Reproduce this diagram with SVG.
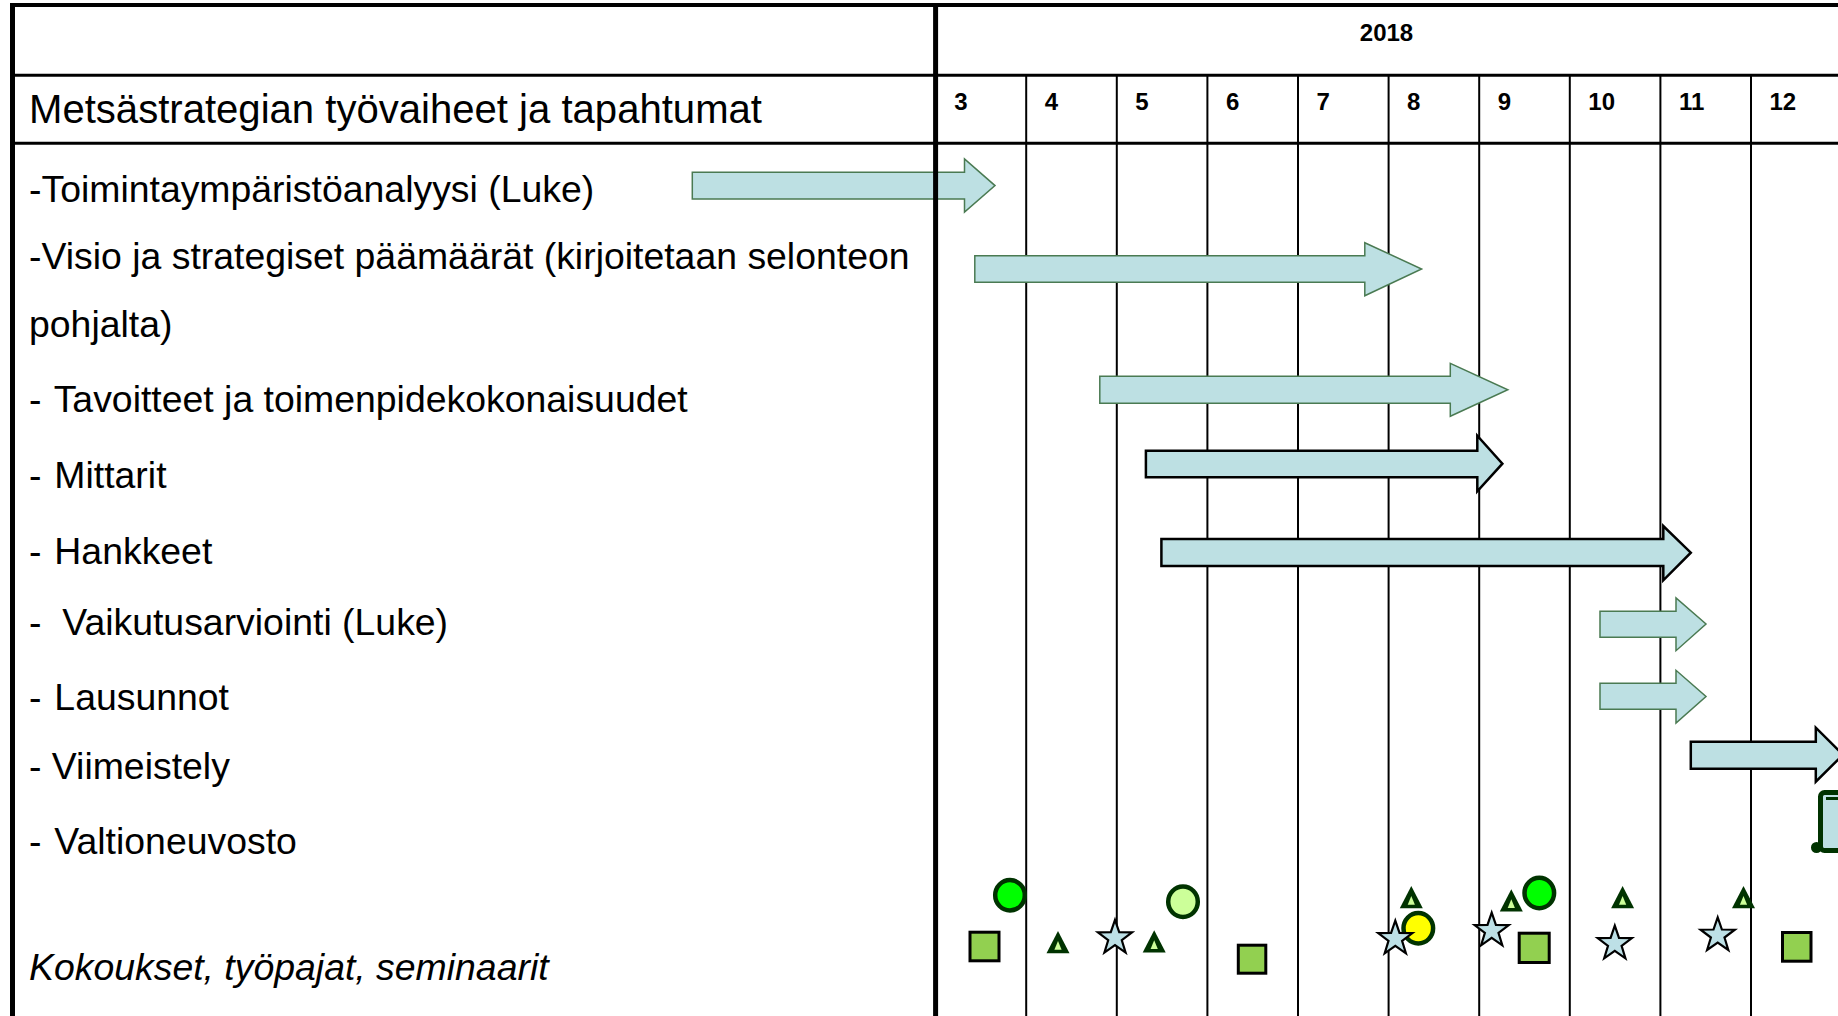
<svg xmlns="http://www.w3.org/2000/svg" xmlns:xlink="http://www.w3.org/1999/xlink" width="1838" height="1016" viewBox="0 0 1838 1016">
<style>
  .grid{stroke:#000;fill:none}
  .thin{stroke-width:2}
  .lbl{font-family:"Liberation Sans",Arial,sans-serif;font-size:37.4px;fill:#000}
  .hdr{font-family:"Liberation Sans",Arial,sans-serif;font-size:40.1px;fill:#000}
  .mon{font-family:"Liberation Sans",Arial,sans-serif;font-size:24px;font-weight:bold;fill:#000}
  .arrA{fill:#bde0e3;stroke:#4a7a52;stroke-width:1.5}
  .arrB{fill:#bde0e3;stroke:#000;stroke-width:2.5}
  .sq{fill:#92d050;stroke:#000;stroke-width:3}
  .circ{stroke:#003300;stroke-width:4.5}
  .star{fill:#bde0e6;stroke:#000;stroke-width:2.2;stroke-linejoin:miter}
</style>
<defs>
  <g id="tri">
    <polygon points="0,-11 11.5,11.3 -11.5,11.3" fill="#003300"/>
    <polygon points="0,-1 3.6,7.8 -3.6,7.8" fill="#ccff99"/>
  </g>
  <polygon id="star" class="star" points="0,-18 4.2,-5.8 17.1,-5.6 6.8,2.2 10.6,14.6 0,7.2 -10.6,14.6 -6.8,2.2 -17.1,-5.6 -4.2,-5.8"/>
</defs>
<rect x="0" y="0" width="1838" height="1016" fill="#fff"/>

<g id="grid">
  <line class="grid thin" x1="1026.2" y1="75" x2="1026.2" y2="1016"/>
  <line class="grid thin" x1="1116.8" y1="75" x2="1116.8" y2="1016"/>
  <line class="grid thin" x1="1207.4" y1="75" x2="1207.4" y2="1016"/>
  <line class="grid thin" x1="1298" y1="75" x2="1298" y2="1016"/>
  <line class="grid thin" x1="1388.6" y1="75" x2="1388.6" y2="1016"/>
  <line class="grid thin" x1="1479.2" y1="75" x2="1479.2" y2="1016"/>
  <line class="grid thin" x1="1569.8" y1="75" x2="1569.8" y2="1016"/>
  <line class="grid thin" x1="1660.4" y1="75" x2="1660.4" y2="1016"/>
  <line class="grid thin" x1="1751" y1="75" x2="1751" y2="1016"/>
  <line class="grid" stroke-width="4" x1="10" y1="5" x2="1838" y2="5"/>
  <line class="grid" stroke-width="3" x1="10" y1="75.3" x2="1838" y2="75.3"/>
  <line class="grid" stroke-width="3" x1="10" y1="143.3" x2="1838" y2="143.3"/>
  <line class="grid" stroke-width="5" x1="12.5" y1="3" x2="12.5" y2="1016"/>
</g>

<g id="header">
  <text class="mon" x="1386.5" y="41" text-anchor="middle">2018</text>
  <text class="hdr" x="29" y="123">Metsästrategian työvaiheet ja tapahtumat</text>
  <text class="mon" x="954.3" y="110">3</text>
  <text class="mon" x="1044.7" y="110">4</text>
  <text class="mon" x="1135.3" y="110">5</text>
  <text class="mon" x="1225.9" y="110">6</text>
  <text class="mon" x="1316.5" y="110">7</text>
  <text class="mon" x="1407.1" y="110">8</text>
  <text class="mon" x="1497.7" y="110">9</text>
  <text class="mon" x="1588.3" y="110">10</text>
  <text class="mon" x="1678.9" y="110">11</text>
  <text class="mon" x="1769.5" y="110">12</text>
</g>

<g id="labels">
  <text class="lbl" x="29" y="202">-Toimintaympäristöanalyysi (Luke)</text>
  <text class="lbl" x="29" y="269">-Visio ja strategiset päämäärät (kirjoitetaan selonteon</text>
  <text class="lbl" x="29" y="337">pohjalta)</text>
  <text class="lbl" x="29" y="412">- <tspan dx="2.5">Tavoitteet ja toimenpidekokonaisuudet</tspan></text>
  <text class="lbl" x="29" y="488">- <tspan dx="2.5">Mittarit</tspan></text>
  <text class="lbl" x="29" y="564">- <tspan dx="2.5">Hankkeet</tspan></text>
  <text class="lbl" x="29" y="635" xml:space="preserve">-  Vaikutusarviointi (Luke)</text>
  <text class="lbl" x="29" y="710">- <tspan dx="2.5">Lausunnot</tspan></text>
  <text class="lbl" x="29" y="779">- Viimeistely</text>
  <text class="lbl" x="29" y="854">- <tspan dx="2.5">Valtioneuvosto</tspan></text>
  <text class="lbl" x="29" y="980" font-style="italic">Kokoukset, työpajat, seminaarit</text>
</g>

<g id="connectors">
  <polygon id="a1" class="arrA" points="692.3,172.3 964.5,172.3 964.5,159 995,185.6 964.5,212 964.5,199 692.3,199"/>
  <polygon id="a2" class="arrA" points="974.8,255.7 1364.8,255.7 1364.8,242.7 1421.6,269 1364.8,295.7 1364.8,282.3 974.8,282.3"/>
  <polygon id="a3" class="arrA" points="1099.8,376.3 1450.3,376.3 1450.3,363.3 1507.8,389.8 1450.3,416.3 1450.3,403.3 1099.8,403.3"/>
  <polygon id="a4" class="arrB" points="1145.9,450.7 1477.3,450.7 1477.3,435.7 1502.4,463.7 1477.3,491.3 1477.3,477.3 1145.9,477.3"/>
  <polygon id="a5" class="arrB" points="1161.4,539 1663.3,539 1663.3,526 1690.8,552.7 1663.3,580.3 1663.3,566 1161.4,566"/>
  <polygon id="a6" class="arrA" points="1600,611.3 1676,611.3 1676,598 1706,624 1676,650.7 1676,637.3 1600,637.3"/>
  <polygon id="a7" class="arrA" points="1600,683.3 1676,683.3 1676,670.3 1706,696.5 1676,723 1676,709.3 1600,709.3"/>
  <polygon id="a8" class="arrB" points="1690.8,741.7 1815.8,741.7 1815.8,727.7 1843,754.7 1815.8,781.7 1815.8,768.7 1690.8,768.7"/>
</g>

<line id="divider" class="grid" stroke-width="5" x1="935.6" y1="3" x2="935.6" y2="1016"/>

<g id="valtioneuvosto">
  <rect x="1820.5" y="792.5" width="40" height="58" rx="4" fill="#bde0e3" stroke="#003300" stroke-width="5"/>
  <line x1="1826" y1="798.5" x2="1840" y2="798.5" stroke="#003300" stroke-width="3"/>
  <circle cx="1816.5" cy="847.5" r="5.5" fill="#003300"/>
</g>

<g id="events">
  <rect class="sq" x="970" y="932.2" width="29" height="28.6"/>
  <rect class="sq" x="1238.3" y="945.2" width="27.5" height="28"/>
  <rect class="sq" x="1519.2" y="933.2" width="30" height="29.3"/>
  <rect class="sq" x="1782.5" y="932.5" width="28.5" height="28.7"/>

  <ellipse class="circ" cx="1010" cy="895.3" rx="14.8" ry="15.2" fill="#00ff00"/>
  <ellipse class="circ" cx="1183" cy="901.7" rx="14.8" ry="15.2" fill="#ccff99"/>
  <ellipse class="circ" cx="1418.3" cy="928.3" rx="14.8" ry="15.2" fill="#ffff00"/>
  <ellipse class="circ" cx="1539.3" cy="893" rx="14.8" ry="15.2" fill="#00ff00"/>

  <use xlink:href="#tri" x="1058" y="942"/>
  <use xlink:href="#tri" x="1154.2" y="941.3"/>
  <use xlink:href="#tri" x="1411.3" y="897"/>
  <use xlink:href="#tri" x="1511.3" y="900.3"/>
  <use xlink:href="#tri" x="1622.6" y="897"/>
  <use xlink:href="#tri" x="1743.5" y="897"/>

  <use xlink:href="#star" x="1115" y="938"/>
  <use xlink:href="#star" x="1395.3" y="938.7"/>
  <use xlink:href="#star" x="1491.7" y="930.7"/>
  <use xlink:href="#star" x="1614.8" y="943.7"/>
  <use xlink:href="#star" x="1717.7" y="935.3"/>
</g>
</svg>
